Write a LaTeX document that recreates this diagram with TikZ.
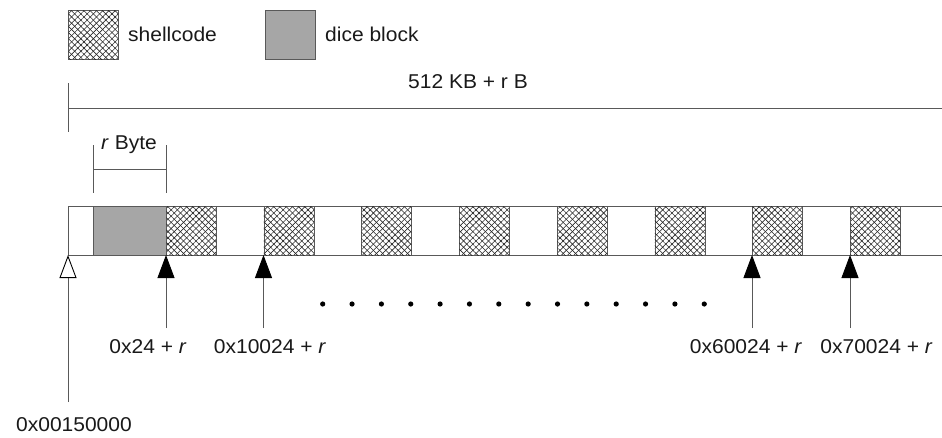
\documentclass[tikz,border=0pt]{standalone}
\usepackage{fontspec}
\setmainfont{Liberation Sans}
\usetikzlibrary{patterns.meta,arrows.meta}
\newcommand\tx[1]{\scalebox{1.05}[1]{#1}}
\begin{document}
\begin{tikzpicture}[x=1pt,y=-1pt,
  ln/.style={draw=black!65,line width=0.9pt},
  lbl/.style={inner sep=0pt,font=\fontsize{20}{24}\selectfont,text=black!90},
  blk/.style={ln,minimum height=49pt,inner sep=0pt,anchor=north west},
  shell/.style={blk,minimum width=50pt,
    pattern={Lines[angle=45,distance=4.4pt,line width=0.6pt]},pattern color=black!85,
    postaction={pattern={Lines[angle=-45,distance=4.4pt,line width=0.6pt]},pattern color=black!85}},
  dice/.style={blk,fill=black!35},
  fillarrow/.style={ln,-{Triangle[width=17pt,length=23pt,color=black,fill=black]}},
  openarrow/.style={ln,-{Triangle[open,width=17pt,length=23pt,color=black,fill=white]}}
]
\useasboundingbox (0,0) rectangle (942,437);
% legend
\node[shell] (legS) at (68,10) {};
\node[lbl,anchor=west] (legSt) at (128,34) {\tx{shellcode}};
\node[dice,minimum width=50pt] (legD) at (265,10) {};
\node[lbl,anchor=west] (legDt) at (325,34) {\tx{dice block}};
% total length bracket
\coordinate (tA) at (68,83);
\coordinate (tB) at (68,132);
\coordinate (tL) at (68,108);
\coordinate (tR) at (942,108);
\draw[ln] (tA) -- (tB);
\draw[ln] (tL) -- (tR);
\node[lbl] (total) at (468,82) {\tx{512 KB + r B}};
% r Byte bracket
\coordinate (rA1) at (93,145);
\coordinate (rA2) at (93,193);
\coordinate (rB1) at (166,145);
\coordinate (rB2) at (166,193);
\coordinate (rM1) at (93,169);
\coordinate (rM2) at (166,169);
\draw[ln] (rA1) -- (rA2);
\draw[ln] (rB1) -- (rB2);
\draw[ln] (rM1) -- (rM2);
\node[lbl] (rbyte) at (129,145) {\tx{\textit{r} Byte}};
% main bar
\coordinate (barTL) at (68,206);
\coordinate (barBL) at (68,255);
\coordinate (barTR) at (942,206);
\coordinate (barBR) at (942,255);
\draw[ln] (barTR) -- (barTL) -- (barBL) -- (barBR);
\node[dice,minimum width=73pt] (dice) at (93,206) {};
\foreach \i/\x in {1/166,2/263.5,3/361,4/459,5/557,6/654.5,7/752,8/850}
  \node[shell] (s\i) at (\x,206) {};
% arrows
\coordinate (a0) at (68,402);
\coordinate (h0) at (68,255);
\draw[openarrow] (a0) -- (h0);
\foreach \n/\x in {1/166,2/263.5,7/752,8/850}{
  \coordinate (a\n) at (\x,328);
  \coordinate (h\n) at (\x,255);
  \draw[fillarrow] (a\n) -- (h\n);
}
% dots
\foreach \k in {0,...,13}
  \fill[black] (322.7+29.35*\k,304) circle (2.6pt);
% labels
\node[lbl] (l0) at (74,425) {\tx{0x00150000}};
\node[lbl] (l1) at (148,347) {\tx{0x24 + \textit{r}}};
\node[lbl] (l2) at (270,347) {\tx{0x10024 + \textit{r}}};
\node[lbl] (l7) at (746,347) {\tx{0x60024 + \textit{r}}};
\node[lbl] (l8) at (876.5,347) {\tx{0x70024 + \textit{r}}};
\end{tikzpicture}
\end{document}
